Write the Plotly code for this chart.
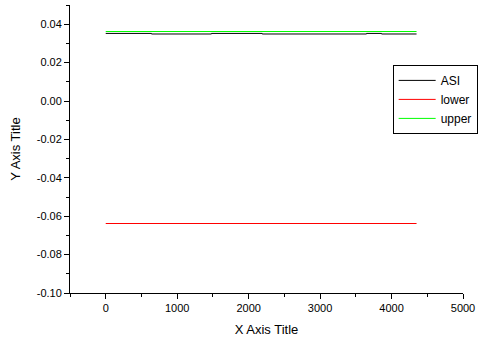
import plotly.graph_objects as go

# Data
asi_x = [0, 640, 1480, 2190, 3650, 3860, 4350]
asi_y = [0.0352, 0.0349, 0.0352, 0.0349, 0.0352, 0.0349, 0.0349]
lower_x = [0, 4350]
lower_y = [-0.0638, -0.0638]
upper_x = [0, 4350]
upper_y = [0.0362, 0.0362]

x_ticks = [0, 1000, 2000, 3000, 4000, 5000]
y_ticks = [-0.10, -0.08, -0.06, -0.04, -0.02, 0.00, 0.02, 0.04]
y_ticktext = ["-0.10", "-0.08", "-0.06", "-0.04", "-0.02", "0.00", "0.02", "0.04"]

FONT = "Liberation Sans, Arial, sans-serif"

fig = go.Figure()
fig.add_trace(go.Scatter(x=asi_x, y=asi_y, mode="lines", name="ASI",
                         line=dict(color="black", width=1, shape="hv")))
fig.add_trace(go.Scatter(x=lower_x, y=lower_y, mode="lines", name="lower",
                         line=dict(color="#ff0000", width=1)))
fig.add_trace(go.Scatter(x=upper_x, y=upper_y, mode="lines", name="upper",
                         line=dict(color="#00ff00", width=1)))

axis_common = dict(
    showline=True, linecolor="black", linewidth=1,
    showgrid=False, zeroline=False,
    ticks="outside", ticklen=5, tickwidth=1, tickcolor="black",
    tickfont=dict(family=FONT, size=11, color="black"),
    mirror=False,
)

fig.update_xaxes(
    range=[-500, 5000], tickvals=x_ticks, ticktext=[str(v) for v in x_ticks],
    minor=dict(ticks="outside", ticklen=3, tickwidth=1, tickcolor="black",
               dtick=500, tick0=0, showgrid=False),
    title=dict(text="X Axis Title", font=dict(family=FONT, size=13, color="black"),
               standoff=11),
    **axis_common,
)
fig.update_yaxes(
    range=[-0.10, 0.05], tickvals=y_ticks, ticktext=y_ticktext,
    minor=dict(ticks="outside", ticklen=3, tickwidth=1, tickcolor="black",
               dtick=0.01, tick0=0, showgrid=False),
    title=dict(text="Y Axis Title", font=dict(family=FONT, size=13, color="black"),
               standoff=13),
    **axis_common,
)

fig.update_layout(
    width=491, height=347,
    margin=dict(l=70, r=28, t=5, b=54, autoexpand=False),
    paper_bgcolor="white", plot_bgcolor="white",
    font=dict(family=FONT, size=11, color="black"),
    showlegend=True,
    legend=dict(
        x=0.821, y=0.792, xanchor="left", yanchor="top",
        bordercolor="black", borderwidth=1, bgcolor="white",
        font=dict(family=FONT, size=12, color="black"),
        tracegroupgap=0, itemwidth=37,
        entrywidth=92, entrywidthmode="pixels",
    ),
)

fig.write_html("out.html")
